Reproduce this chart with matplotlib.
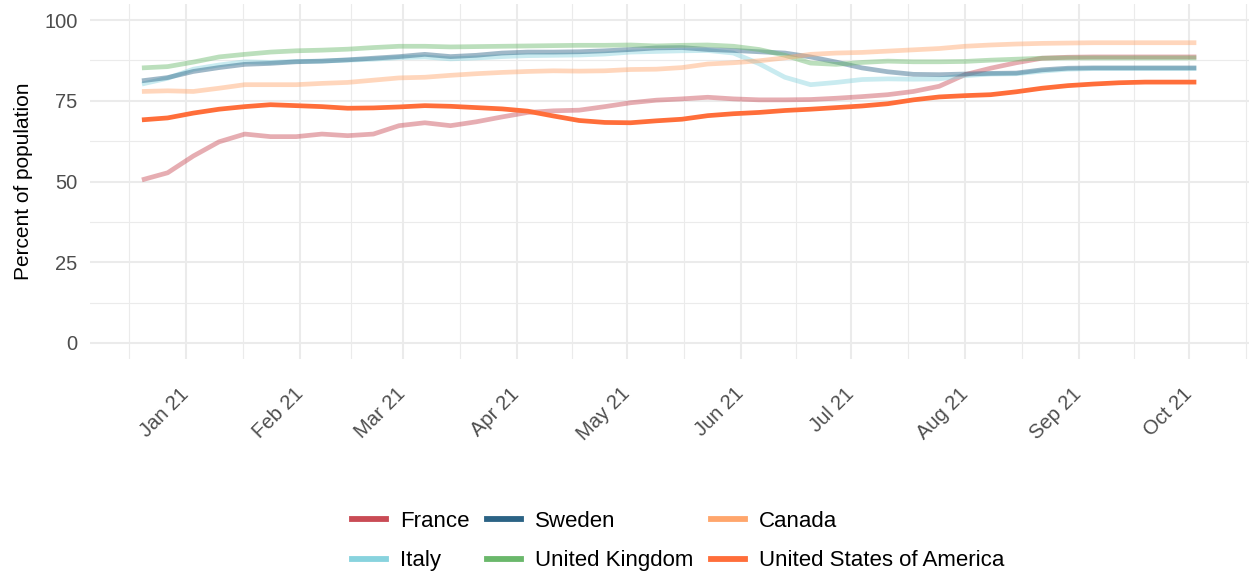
import datetime as dt
import matplotlib
matplotlib.use("Agg")
import matplotlib.pyplot as plt
import matplotlib.dates as mdates
from matplotlib.lines import Line2D

plt.rcParams['font.family'] = ['Liberation Sans', 'DejaVu Sans']

# ---- data ----
start = dt.date(2020, 12, 20)
dates = [start + dt.timedelta(days=7 * i) for i in range(42)]

countries = ["France", "Italy", "Sweden", "United Kingdom", "Canada", "United States of America"]
colors = ["#C94B55", "#88D3DE", "#2B6385", "#6AB86B", "#FFA66C", "#FF6E3A"]

france = [50.5, 52.7, 57.9, 62.3, 64.7, 63.9, 63.9, 64.7, 64.2, 64.7, 67.3, 68.2, 67.3, 68.5,
          70.0, 71.4, 71.9, 72.1, 73.2, 74.4, 75.2, 75.6, 76.1, 75.6, 75.3, 75.3, 75.4, 75.8,
          76.3, 76.9, 77.9, 79.5, 83.1, 85.1, 86.8, 88.2, 88.5, 88.6, 88.6, 88.6, 88.6, 88.6]
italy = [80.2, 82.0, 84.8, 86.1, 87.1, 86.9, 87.2, 87.3, 87.6, 87.9, 88.4, 88.6, 88.0, 88.3,
         88.7, 89.0, 89.1, 89.2, 89.5, 90.1, 90.3, 90.5, 90.6, 89.8, 86.5, 82.3, 80.0, 80.7,
         81.6, 81.8, 81.7, 81.8, 82.8, 83.3, 83.4, 84.2, 84.8, 85.0, 85.0, 85.0, 85.0, 85.0]
sweden = [81.2, 82.2, 84.1, 85.3, 86.3, 86.6, 87.1, 87.3, 87.7, 88.2, 88.7, 89.4, 88.7, 89.1,
          89.8, 90.1, 90.1, 90.2, 90.5, 90.9, 91.4, 91.5, 90.9, 90.6, 90.2, 89.8, 88.6, 87.0,
          85.2, 84.0, 83.2, 83.1, 83.3, 83.5, 83.6, 84.6, 85.1, 85.2, 85.2, 85.2, 85.2, 85.2]
uk = [85.2, 85.6, 87.0, 88.6, 89.4, 90.1, 90.5, 90.7, 91.0, 91.5, 91.9, 91.9, 91.7, 91.8,
      91.9, 92.0, 92.1, 92.2, 92.2, 92.3, 92.0, 92.2, 92.3, 91.9, 90.9, 89.1, 86.7, 86.3,
      86.9, 87.3, 87.1, 87.1, 87.2, 87.6, 87.9, 88.2, 88.3, 88.3, 88.3, 88.3, 88.3, 88.3]
canada = [77.9, 78.1, 77.9, 78.9, 80.0, 80.0, 80.0, 80.4, 80.7, 81.4, 82.1, 82.3, 82.9, 83.4,
          83.8, 84.1, 84.3, 84.2, 84.3, 84.7, 84.8, 85.3, 86.4, 86.8, 87.4, 88.3, 89.4, 89.8,
          90.0, 90.4, 90.8, 91.2, 91.9, 92.3, 92.6, 92.8, 92.9, 93.0, 93.0, 93.0, 93.0, 93.0]
usa = [69.1, 69.7, 71.2, 72.4, 73.2, 73.8, 73.5, 73.2, 72.7, 72.8, 73.1, 73.5, 73.3, 72.9,
       72.5, 71.8, 70.3, 68.9, 68.3, 68.2, 68.8, 69.3, 70.4, 71.0, 71.4, 72.0, 72.4, 72.9,
       73.4, 74.1, 75.3, 76.2, 76.6, 76.9, 77.8, 78.9, 79.7, 80.2, 80.6, 80.8, 80.8, 80.8]
series = [france, italy, sweden, uk, canada, usa]

y_ticks = [0, 25, 50, 75, 100]
month_ticks = [dt.date(2021, m, 1) for m in range(1, 11)]

# ---- figure ----
W, H = 1249, 576
fig = plt.figure(figsize=(W / 100, H / 100), dpi=100)
ax = fig.add_axes([90 / W, (H - 359) / H, (W - 90) / W, 355 / H])

dnum = mdates.date2num(dates)
jan1 = mdates.date2num(dt.date(2021, 1, 1))
oct1 = mdates.date2num(dt.date(2021, 10, 1))
ppd = (1189 - 186) / (oct1 - jan1)
ax.set_xlim(jan1 - 96 / ppd, oct1 + 60 / ppd)
ax.set_ylim(-5, 105)

# draw highlight (USA) last
for name, col, vals in zip(countries, colors, series):
    if name == "United States of America":
        continue
    ax.plot(dnum, vals, color=col, alpha=0.45, lw=3.4, solid_capstyle='butt',
            solid_joinstyle='round', zorder=3)
ax.plot(dnum, usa, color=colors[-1], alpha=1.0, lw=3.4, solid_capstyle='butt',
        solid_joinstyle='round', zorder=4)

# grid
ax.set_yticks(y_ticks)
ax.set_yticks([12.5, 37.5, 62.5, 87.5], minor=True)
mt = mdates.date2num(month_ticks)
ax.set_xticks(mt)
edges = [mdates.date2num(dt.date(2020, 12, 1))] + list(mt) + [mdates.date2num(dt.date(2021, 11, 1))]
ax.set_xticks([(a + b) / 2 for a, b in zip(edges[:-1], edges[1:])], minor=True)
ax.set_xticklabels([d.strftime("%b %y") for d in month_ticks])
ax.grid(which='major', color='#EBEBEB', lw=1.5, zorder=0)
ax.grid(which='minor', color='#EBEBEB', lw=0.8, zorder=0)
ax.set_axisbelow(True)
for s in ax.spines.values():
    s.set_visible(False)
ax.tick_params(which='both', length=0)
ax.tick_params(axis='y', labelsize=14.5, labelcolor='#4D4D4D', pad=9)
ax.tick_params(axis='x', labelsize=14.5, labelcolor='#4D4D4D', pad=23)
for lbl in ax.get_xticklabels():
    lbl.set_rotation(45)
    lbl.set_ha('right')
    lbl.set_va('center')
    lbl.set_rotation_mode('anchor')
ax.set_ylabel("Percent of population", fontsize=15, color='black', labelpad=8)

handles = [Line2D([0], [0], color=c, lw=4.2) for c in colors]
leg = fig.legend(handles, countries, loc='center', ncol=3,
                 bbox_to_anchor=(678 / W, 1 - 541 / H), frameon=False,
                 fontsize=16, handlelength=1.55, handletextpad=0.6,
                 columnspacing=0.8, labelspacing=0.85)

fig.savefig("out.png", dpi=100)
